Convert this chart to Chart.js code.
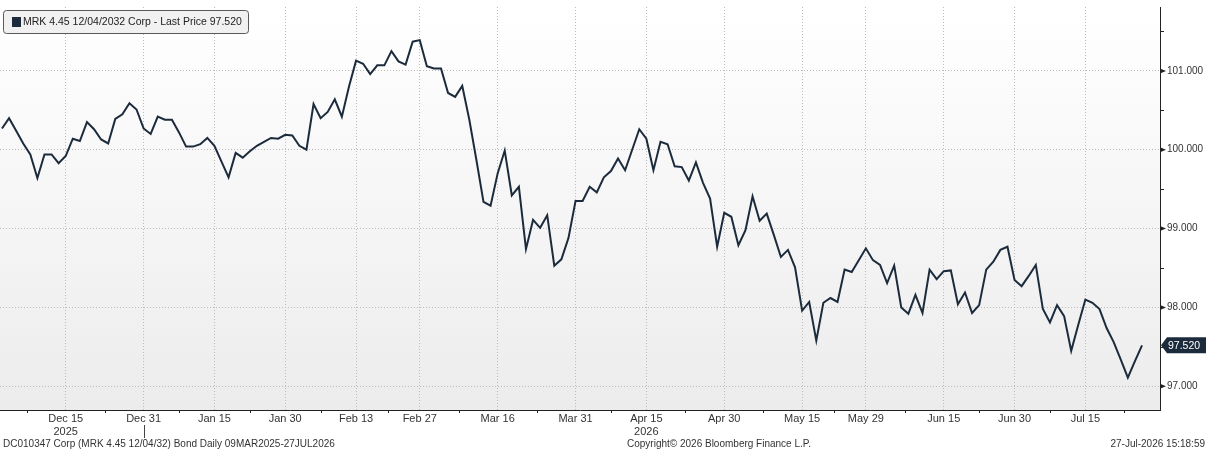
<!DOCTYPE html>
<html>
<head>
<meta charset="utf-8">
<script src="https://cdn.jsdelivr.net/npm/chart.js@4.4.1/dist/chart.umd.min.js"></script>
<style>
  html, body { margin: 0; padding: 0; background: #ffffff; }
  #wrap { width: 1207px; height: 450px; position: relative; }
</style>
</head>
<body>
<div id="wrap"><canvas id="bondChart"></canvas></div>
<script>
// daily closing prices, one per trading day (early Dec 2025 -> 27 Jul 2026)
const prices = [
  100.27, 100.40, 100.24, 100.08, 99.94, 99.64, 99.94, 99.94, 99.83, 99.92,
  100.14, 100.11, 100.35, 100.26, 100.13, 100.08, 100.39, 100.45, 100.59, 100.51,
  100.27, 100.20, 100.42, 100.38, 100.38, 100.22, 100.04, 100.04, 100.07, 100.15,
  100.05, 99.85, 99.65, 99.96, 99.90, 99.98, 100.05, 100.10, 100.15, 100.14,
  100.19, 100.18, 100.05, 100.00, 100.58, 100.40, 100.48, 100.64, 100.42, 100.80,
  101.13, 101.09, 100.96, 101.07, 101.07, 101.25, 101.12, 101.08, 101.37, 101.39,
  101.06, 101.03, 101.03, 100.72, 100.67, 100.81, 100.38, 99.87, 99.34, 99.29,
  99.70, 99.99, 99.42, 99.53, 98.74, 99.11, 99.01, 99.17, 98.53, 98.61,
  98.88, 99.35, 99.35, 99.53, 99.46, 99.65, 99.73, 99.89, 99.74, 100.00,
  100.26, 100.14, 99.74, 100.10, 100.07, 99.79, 99.78, 99.61, 99.84, 99.58,
  99.38, 98.77, 99.20, 99.15, 98.79, 98.98, 99.41, 99.10, 99.19, 98.92,
  98.64, 98.73, 98.51, 97.96, 98.07, 97.58, 98.06, 98.12, 98.07, 98.48,
  98.45, 98.60, 98.75, 98.60, 98.54, 98.31, 98.53, 98.00, 97.92, 98.16,
  97.93, 98.48, 98.36, 98.46, 98.47, 98.04, 98.19, 97.93, 98.03, 98.48,
  98.58, 98.73, 98.77, 98.35, 98.27, 98.40, 98.54, 97.98, 97.81, 98.03,
  97.89, 97.45, 97.78, 98.10, 98.06, 97.98, 97.74, 97.56, 97.34, 97.11,
  97.32, 97.52
];

// x axis: trading-day index of each labelled date
const tickIdx = [9, 20, 30, 40, 50, 59, 70, 81, 91, 102, 113, 122, 133, 143, 153];
const tickLabels = ['Dec 15', 'Dec 31', 'Jan 15', 'Jan 30', 'Feb 13', 'Feb 27', 'Mar 16', 'Mar 31',
                    'Apr 15', 'Apr 30', 'May 15', 'May 29', 'Jun 15', 'Jun 30', 'Jul 15'];
const yearIdx = [9, 91];
const yearLabels = ['2025', '2026'];
const yearBreakIdx = 20;

// y axis
const yTicks = [97, 98, 99, 100, 101];
const yMinorTicks = [96.5, 97.5, 98.5, 99.5, 100.5, 101.5];

const legendText = 'MRK 4.45 12/04/2032 Corp - Last Price 97.520';
const footerLeft = 'DC010347 Corp (MRK 4.45 12/04/32) Bond Daily 09MAR2025-27JUL2026';
const footerMid = 'Copyright\u00A9 2026 Bloomberg Finance L.P.';
const footerRight = '27-Jul-2026 15:18:59';

const FONT = 'Liberation Sans, Arial, sans-serif';
const NAVY = '#1c2b3c';

// plot background gradient
const bgPlugin = {
  id: 'bg',
  beforeDraw(chart) {
    const { ctx, chartArea: a } = chart;
    const g = ctx.createLinearGradient(0, a.top, 0, a.bottom);
    g.addColorStop(0, '#ffffff');
    g.addColorStop(1, '#ececec');
    ctx.save();
    ctx.fillStyle = g;
    ctx.fillRect(a.left, a.top, a.right - a.left, a.bottom - a.top);
    ctx.restore();
  }
};

// legend box, last price tag, axis decorations, footer
const extrasPlugin = {
  id: 'extras',
  afterDraw(chart) {
    const { ctx, chartArea: a } = chart;
    const xs = chart.scales.x;
    const ys = chart.scales.y;
    ctx.save();

    // legend
    ctx.beginPath();
    ctx.roundRect(3.5, 10.5, 245, 23, 3);
    ctx.fillStyle = '#f1f1f1';
    ctx.fill();
    ctx.strokeStyle = '#5a5a5a';
    ctx.lineWidth = 1;
    ctx.stroke();
    ctx.fillStyle = NAVY;
    ctx.fillRect(12, 17, 9, 10);
    ctx.fillStyle = '#222';
    ctx.font = '10.5px ' + FONT;
    ctx.textBaseline = 'middle';
    ctx.textAlign = 'left';
    ctx.fillText(legendText, 23, 22.5);

    // y axis tick arrows and minor ticks
    ctx.fillStyle = '#222';
    yTicks.forEach(v => {
      const y = ys.getPixelForValue(v);
      ctx.beginPath();
      ctx.moveTo(a.right, y - 2.5);
      ctx.lineTo(a.right + 6, y);
      ctx.lineTo(a.right, y + 2.5);
      ctx.closePath();
      ctx.fill();
    });
    ctx.strokeStyle = '#222';
    yMinorTicks.forEach(v => {
      const y = Math.round(ys.getPixelForValue(v)) + 0.5;
      if (y < a.top || y > a.bottom) return;
      ctx.beginPath();
      ctx.moveTo(a.right, y);
      ctx.lineTo(a.right + 4, y);
      ctx.stroke();
    });

    // x axis minor ticks between labels
    const mids = [tickIdx[0] - (tickIdx[1] - tickIdx[0]) / 2];
    for (let i = 1; i < tickIdx.length; i++) mids.push((tickIdx[i - 1] + tickIdx[i]) / 2);
    mids.push(tickIdx[tickIdx.length - 1] + (tickIdx[tickIdx.length - 1] - tickIdx[tickIdx.length - 2]) / 2 + 0.5);
    mids.forEach(m => {
      const x = Math.round(xs.getPixelForValue(m)) + 0.5;
      ctx.beginPath();
      ctx.moveTo(x, a.bottom);
      ctx.lineTo(x, a.bottom + 3);
      ctx.stroke();
    });

    // year separator
    const xb = Math.round(xs.getPixelForValue(yearBreakIdx)) + 0.5;
    ctx.strokeStyle = '#444';
    ctx.beginPath();
    ctx.moveTo(xb, a.bottom + 15);
    ctx.lineTo(xb, a.bottom + 28);
    ctx.stroke();

    // last price tag
    const last = prices[prices.length - 1];
    const yl = ys.getPixelForValue(last);
    ctx.fillStyle = NAVY;
    ctx.beginPath();
    ctx.moveTo(a.right + 1, yl);
    ctx.lineTo(a.right + 7, yl - 8);
    ctx.lineTo(a.right + 46, yl - 8);
    ctx.lineTo(a.right + 46, yl + 8);
    ctx.lineTo(a.right + 7, yl + 8);
    ctx.closePath();
    ctx.fill();
    ctx.fillStyle = '#ffffff';
    ctx.font = '10.5px ' + FONT;
    ctx.textAlign = 'left';
    ctx.fillText(last.toFixed(3), a.right + 8, yl + 0.5);

    // footer
    ctx.fillStyle = '#333';
    ctx.font = '10px ' + FONT;
    ctx.textAlign = 'left';
    ctx.fillText(footerLeft, 3, 444);
    ctx.fillText(footerMid, 627, 444);
    ctx.textAlign = 'right';
    ctx.fillText(footerRight, 1205, 444);

    ctx.restore();
  }
};

const points = prices.map((v, i) => ({ x: i, y: v }));

new Chart(document.getElementById('bondChart'), {
  type: 'line',
  data: {
    datasets: [{
      label: 'MRK 4.45 12/04/2032 Corp',
      data: points,
      borderColor: NAVY,
      borderWidth: 2,
      pointRadius: 0,
      tension: 0,
      fill: false
    }]
  },
  options: {
    responsive: true,
    maintainAspectRatio: false,
    animation: false,
    devicePixelRatio: 1,
    layout: { padding: { top: 7, left: 0, right: 0, bottom: 0 } },
    plugins: {
      legend: { display: false },
      tooltip: { enabled: false }
    },
    scales: {
      x: {
        type: 'linear',
        min: -0.28,
        max: 163.54,
        afterBuildTicks: s => { s.ticks = tickIdx.map(v => ({ value: v })); },
        afterFit: s => { s.height = 40; },
        ticks: {
          autoSkip: false,
          maxRotation: 0,
          padding: 2,
          color: '#333',
          font: { family: FONT, size: 11 },
          callback: v => {
            const k = tickIdx.indexOf(v);
            const yk = yearIdx.indexOf(v);
            return yk >= 0 ? [tickLabels[k], yearLabels[yk]] : tickLabels[k];
          }
        },
        grid: { color: '#bcbcbc', lineWidth: 1, drawTicks: false },
        border: { display: true, color: '#222', width: 1, dash: [1, 2] }
      },
      y: {
        position: 'right',
        min: 96.7,
        max: 101.81,
        afterBuildTicks: s => { s.ticks = yTicks.map(v => ({ value: v })); },
        afterFit: s => { s.width = 47; },
        ticks: {
          padding: 1,
          color: '#333',
          font: { family: FONT, size: 10 },
          callback: v => v.toFixed(3)
        },
        grid: { color: '#bcbcbc', lineWidth: 1, drawTicks: true, tickLength: 6, tickColor: 'rgba(0,0,0,0)' },
        border: { display: true, color: '#222', width: 1, dash: [1, 2] }
      }
    }
  },
  plugins: [bgPlugin, extrasPlugin]
});
</script>
</body>
</html>
